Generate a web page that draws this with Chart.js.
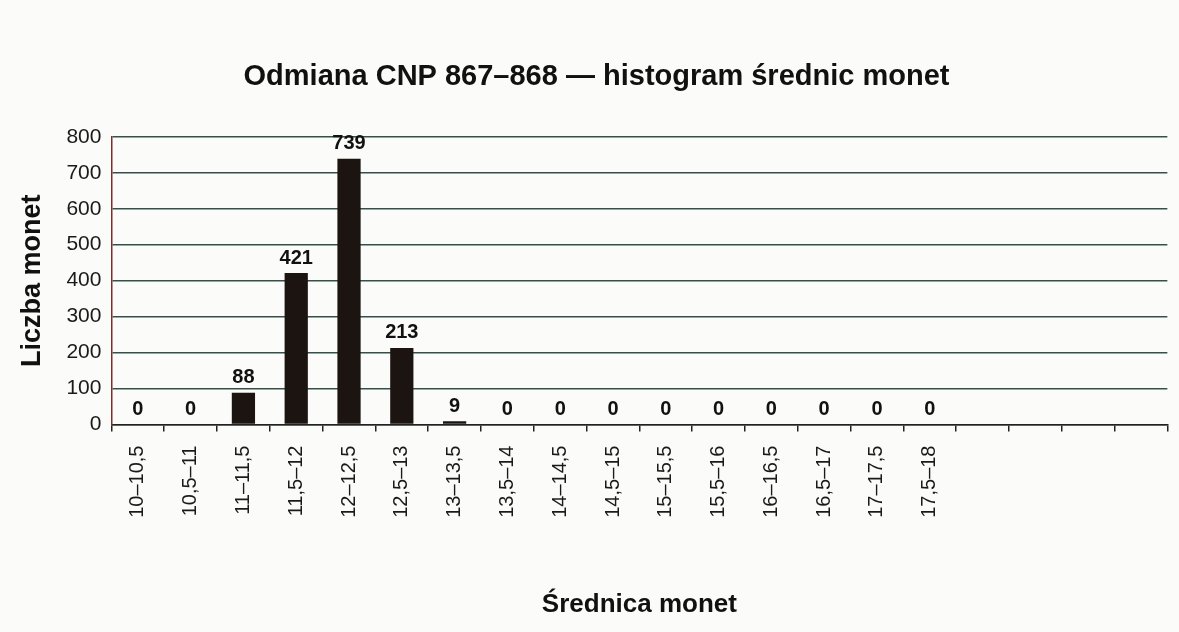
<!DOCTYPE html>
<html>
<head>
<meta charset="utf-8">
<script src="https://cdn.jsdelivr.net/npm/chart.js@4"></script>
<style>
  html, body { margin: 0; padding: 0; background: #fbfbf9; }
  #wrap { width: 1179px; height: 632px; }
</style>
</head>
<body>
<div id="wrap"><canvas id="hist"></canvas></div>
<script>
// przedziały średnic (mm), ostatnie 4 kategorie puste na osi
const ranges = ['10–10,5', '10,5–11', '11–11,5', '11,5–12', '12–12,5', '12,5–13', '13–13,5', '13,5–14',
                '14–14,5', '14,5–15', '15–15,5', '15,5–16', '16–16,5', '16,5–17', '17–17,5', '17,5–18',
                '', '', '', ''];
const counts = [0, 0, 88, 421, 739, 213, 9, 0, 0, 0, 0, 0, 0, 0, 0, 0];
const yTicks = [0, 100, 200, 300, 400, 500, 600, 700, 800];

const FONT = '"Liberation Sans", Arial, sans-serif';

// wartości nad słupkami
const valueLabels = {
    id: 'valueLabels',
    afterDatasetsDraw(chart) {
        const ctx = chart.ctx;
        const meta = chart.getDatasetMeta(0);
        ctx.save();
        ctx.font = 'bold 20px ' + FONT;
        ctx.fillStyle = '#111';
        ctx.textAlign = 'center';
        ctx.textBaseline = 'bottom';
        meta.data.forEach((bar, i) => {
            const v = counts[i];
            if (v === undefined) return;
            ctx.fillText(String(v), bar.x, bar.y - 5);
        });
        ctx.restore();
    }
};

const bgPlugin = {
    id: 'bg',
    beforeDraw(chart) {
        const ctx = chart.ctx;
        ctx.save();
        ctx.fillStyle = '#fbfbf9';
        ctx.fillRect(0, 0, chart.width, chart.height);
        ctx.restore();
    }
};

new Chart(document.getElementById('hist').getContext('2d'), {
    type: 'bar',
    data: {
        labels: ranges,
        datasets: [{
            label: 'Liczba monet',
            data: counts,
            backgroundColor: '#1c1410',
            barPercentage: 0.44,
            categoryPercentage: 1.0
        }]
    },
    options: {
        responsive: true,
        maintainAspectRatio: false,
        animation: false,
        layout: { padding: { left: 16, right: 2, top: 0, bottom: 12 } },
        plugins: {
            legend: { display: false },
            tooltip: { enabled: false },
            title: {
                display: true,
                text: 'Odmiana CNP 867–868 — histogram średnic monet',
                font: { family: FONT, size: 29, weight: 'bold' },
                color: '#111',
                padding: { top: 60, bottom: 42 }
            }
        },
        scales: {
            x: {
                grid: {
                    display: true,
                    drawOnChartArea: false,
                    drawTicks: true,
                    tickLength: 7,
                    color: '#222',
                    lineWidth: 1.5
                },
                border: { color: '#222', width: 1.5 },
                ticks: {
                    autoSkip: false,
                    maxRotation: 90,
                    minRotation: 90,
                    padding: 14,
                    color: '#1a1a1a',
                    font: { family: FONT, size: 20 }
                },
                title: {
                    display: true,
                    text: 'Średnica monet',
                    color: '#111',
                    font: { family: FONT, size: 26, weight: 'bold' },
                    padding: { top: 57, bottom: 0 }
                }
            },
            y: {
                min: 0,
                max: 800,
                afterBuildTicks: axis => { axis.ticks = yTicks.map(v => ({ value: v })); },
                grid: {
                    color: '#34514c',
                    lineWidth: 1.5,
                    drawTicks: false
                },
                border: { color: '#7a2e2e', width: 1.5 },
                ticks: {
                    padding: 10,
                    color: '#1a1a1a',
                    font: { family: FONT, size: 21 }
                },
                title: {
                    display: true,
                    text: 'Liczba monet',
                    color: '#111',
                    font: { family: FONT, size: 27, weight: 'bold' },
                    padding: { top: 0, bottom: 8 }
                }
            }
        }
    },
    plugins: [bgPlugin, valueLabels]
});
</script>
</body>
</html>
